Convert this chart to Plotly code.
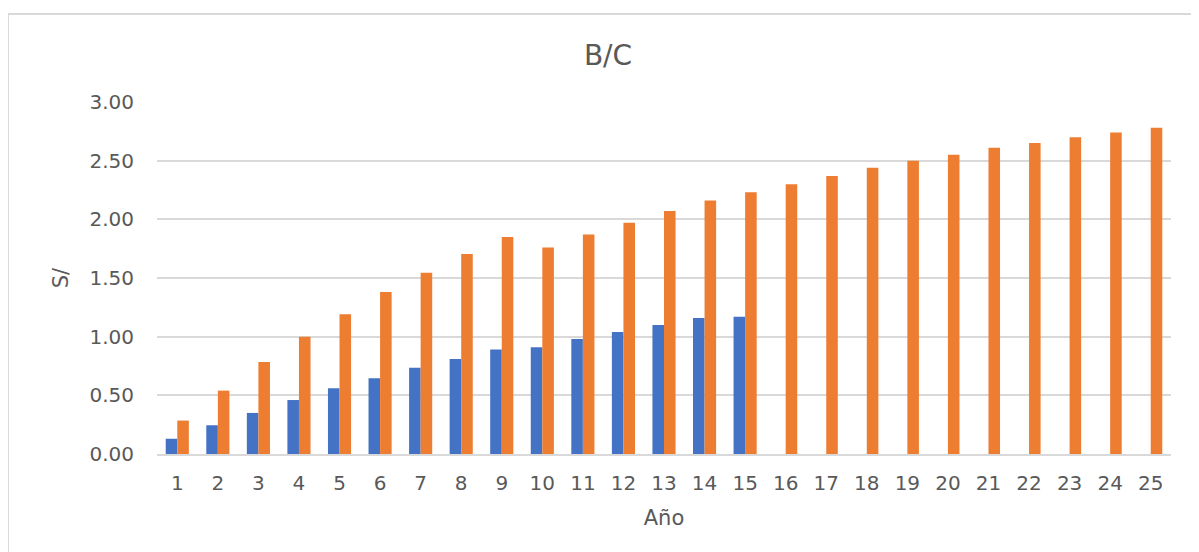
import plotly.graph_objects as go

# Data
years = [str(i) for i in range(1, 26)]
serie_azul = [0.13, 0.245, 0.35, 0.46, 0.56, 0.645, 0.735, 0.81, 0.89, 0.91,
              0.98, 1.04, 1.10, 1.16, 1.17]
serie_naranja = [0.285, 0.54, 0.785, 1.00, 1.19, 1.38, 1.545, 1.705, 1.85, 1.76,
                 1.87, 1.97, 2.07, 2.16, 2.23, 2.30, 2.37, 2.44, 2.50, 2.55,
                 2.61, 2.65, 2.70, 2.74, 2.78]

# page body has an 8px margin, so the figure starts at (8, 8)
OFF = 8
W, H = 1199 - OFF, 552 - OFF
L, R, T, B = 157 - OFF, 28, 102 - OFF, 98
text_color = "#595959"
grid_color = "#D9D9D9"
font_family = "DejaVu Sans, Open Sans, sans-serif"

fig = go.Figure()
fig.add_trace(go.Bar(x=years[:len(serie_azul)], y=serie_azul,
                     marker=dict(color="#4472C4", line=dict(width=0)), name="B/C 1"))
fig.add_trace(go.Bar(x=years, y=serie_naranja,
                     marker=dict(color="#ED7D31", line=dict(width=0)), name="B/C 2"))

pw = W - L - R
ph = H - T - B
# chart area border (only left and top edges are visible)
fig.add_shape(type="rect", xref="paper", yref="paper",
              x0=(8 - 157) / pw, x1=(W + 20 - L) / pw,
              y0=-(B + 20) / ph, y1=(454 - 14) / ph,
              line=dict(color=grid_color, width=2), layer="below")

fig.update_layout(
    width=W, height=H,
    margin=dict(l=L, r=R, t=T, b=B),
    paper_bgcolor="white", plot_bgcolor="white",
    barmode="group", bargap=0.43, bargroupgap=0,
    showlegend=False,
    font=dict(family=font_family, color=text_color, size=20),
    title=dict(text="B/C", x=(608 - OFF) / W, xanchor="center",
               y=1 - (55 - OFF) / H, yanchor="middle",
               font=dict(size=28, color=text_color)),
)
fig.update_xaxes(
    type="category", showgrid=False, showline=True, linecolor=grid_color,
    linewidth=2, ticks="", ticklabelstandoff=10,
    title=dict(text="Año", font=dict(size=21), standoff=16),
)
fig.update_yaxes(
    range=[0, 3], dtick=0.5, tickformat=".2f", showgrid=True,
    gridcolor=grid_color, gridwidth=2, zeroline=False, showline=False,
    ticks="", ticklabelstandoff=22,
    title=dict(text="S/", font=dict(size=21), standoff=15),
)

fig.write_html("out.html")
